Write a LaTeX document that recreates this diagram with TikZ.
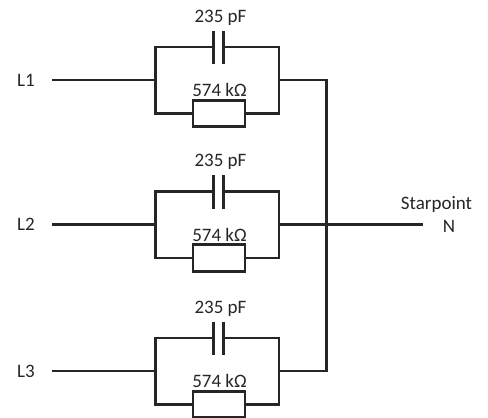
\documentclass[tikz,border=0pt]{standalone}
\usepackage{fontspec}
\setmainfont{Carlito}
\tikzset{
 wire/.style={draw=black!85,line width=2.6pt,line cap=butt,line join=miter},
 lbl/.style={inner sep=0pt,font=\fontsize{19}{21}\selectfont,text=black!85},
 res/.style={draw=black!85,line width=2.6pt,fill=white,minimum width=52pt,minimum height=26.5pt,inner sep=0pt,outer sep=0pt}
}
\newcommand{\branch}[3]{% mid y, line label, suffix
 \coordinate (in#3) at (52,#1);
 \coordinate (l#3) at (155.7,#1);
 \coordinate (r#3) at (279,#1);
 \coordinate (lt#3) at (155.7,#1-33);
 \coordinate (lb#3) at (155.7,#1+33.5);
 \coordinate (rt#3) at (279,#1-33);
 \coordinate (rb#3) at (279,#1+33.5);
 \coordinate (pa#3) at (213.3,#1-33);
 \coordinate (pb#3) at (223.3,#1-33);
 \coordinate (pa1#3) at (213.3,#1-49.5);
 \coordinate (pa2#3) at (213.3,#1-16);
 \coordinate (pb1#3) at (223.3,#1-49.5);
 \coordinate (pb2#3) at (223.3,#1-16);
 \node[res] (R#3) at (219,#1+33.5) {};
 \node[lbl] (cv#3) at (220.5,#1-62.5) {235 pF};
 \node[lbl] (rv#3) at (219.5,#1+10) {574 kΩ};
 \node[lbl] (name#3) at (26,#1) {#2};
 \draw[wire] (in#3) -- (l#3);
 \draw[wire] (pa#3) -- (lt#3) -- (lb#3) -- (R#3.west);
 \draw[wire] (pb#3) -- (rt#3) -- (rb#3) -- (R#3.east);
 \draw[wire] (pa1#3) -- (pa2#3);
 \draw[wire] (pb1#3) -- (pb2#3);
}
\begin{document}
\begin{tikzpicture}[x=1pt,y=-1pt]
\useasboundingbox (0,0) rectangle (488,418);
\branch{80}{L1}{a}
\branch{224.5}{L2}{b}
\branch{371}{L3}{c}
\coordinate (bt) at (326.7,80);
\coordinate (bb) at (326.7,371);
\coordinate (bm) at (326.7,224.5);
\coordinate (nend) at (423,224.5);
\draw[wire] (ra) -- (bt) -- (bb) -- (rc);
\draw[wire] (rb) -- (bm) -- (nend);
\node[lbl] (star) at (436.5,204) {Starpoint};
\node[lbl] (n) at (449,226) {N};
\end{tikzpicture}
\end{document}
